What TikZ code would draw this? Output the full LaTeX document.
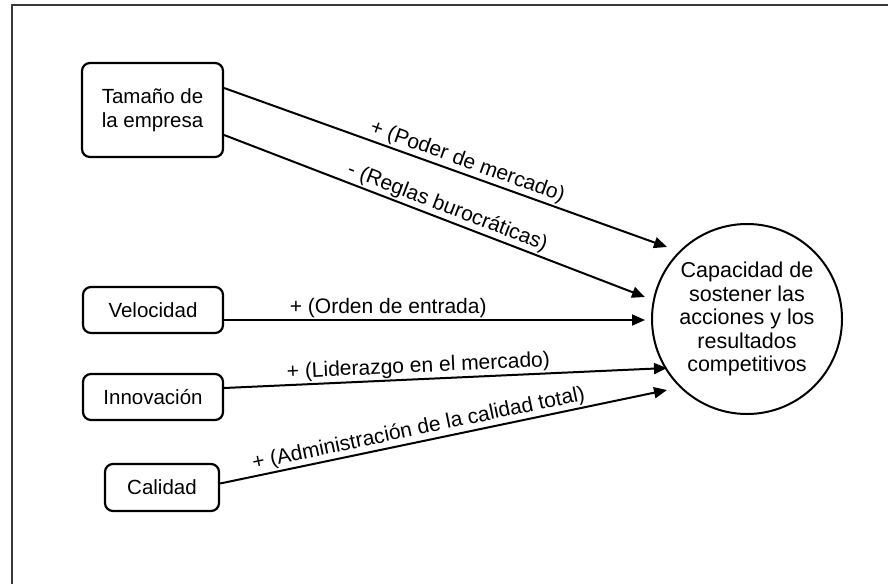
\documentclass[tikz,border=0pt]{standalone}
\usepackage{fontspec}
\setmainfont{Liberation Sans}
\usetikzlibrary{arrows.meta}
\definecolor{ink}{HTML}{000000}
\definecolor{frame}{HTML}{3A3A3A}
\tikzset{
  marco/.style={line width=2pt, draw=frame},
  caja/.style={draw=ink, line width=2.2pt, rounded corners=8pt, align=center, font=\fontsize{20.5}{24}\selectfont, inner sep=0pt},
  meta/.style={circle, draw=ink, line width=2pt, minimum size=190pt, align=center, font=\fontsize{21.5}{23.5}\selectfont, inner sep=0pt},
  flecha/.style={-{Triangle[length=13pt,width=11pt]}, line width=2pt, draw=ink},
  etiq/.style={font=\fontsize{21}{24}\selectfont, text=ink, sloped, above, inner sep=1.5pt}
}

\begin{document}
\begin{tikzpicture}[x=1pt,y=-1pt]
  \useasboundingbox (0,0) rectangle (888,584);
  \draw[marco] (888,5) -- (12,5) -- (12,584);
  \node[caja, minimum width=141pt, minimum height=94pt] (tam) at (152.5,110) {Tamaño de\\la empresa};
  \node[caja, minimum width=140pt, minimum height=46pt] (vel) at (153,310) {Velocidad};
  \node[caja, minimum width=140pt, minimum height=46pt] (inn) at (153,397) {Innovación};
  \node[caja, minimum width=114pt, minimum height=47pt] (cal) at (162,487.5) {Calidad};
  \node[meta] (cap) at (747,319) {Capacidad de\\sostener las\\acciones y los\\resultados\\competitivos};
  \coordinate (p1) at (667,247);
  \coordinate (p2) at (645,297);
  \coordinate (p3) at (645,320);
  \coordinate (p4) at (667,368);
  \coordinate (p5) at (667,390);
  \draw[flecha] ([yshift=22pt]tam.east) -- (p1) node[etiq,pos=0.54] {+ (Poder de mercado)};
  \draw[flecha] ([yshift=-25pt]tam.east) -- (p2) node[etiq,pos=0.52] {- (Reglas burocráticas)};
  \draw[flecha] ([yshift=-10pt]vel.east) -- (p3) node[etiq,pos=0.39] {+ (Orden de entrada)};
  \draw[flecha] ([yshift=9pt]inn.east) -- (p4) node[etiq,pos=0.44] {+ (Liderazgo en el mercado)};
  \draw[flecha] ([yshift=4pt]cal.east) -- (p5) node[etiq,pos=0.45] {+ (Administración de la calidad total)};
\end{tikzpicture}
\end{document}
